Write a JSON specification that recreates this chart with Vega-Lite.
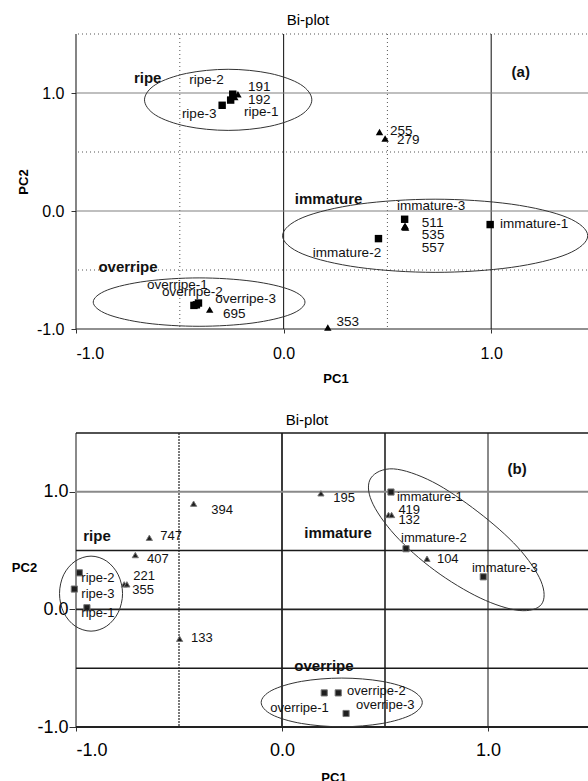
{
  "$schema": "https://vega.github.io/schema/vega-lite/v6.json",
  "padding": {"left": 11, "top": 13, "right": 0, "bottom": 0},
  "spacing": 28,
  "resolve": {"scale": {"color": "independent", "strokeWidth": "independent", "strokeDash": "independent", "shape": "independent"}},
  "config": {
    "font": "Liberation Sans",
    "view": {"stroke": null},
    "axis": {"grid": false, "domain": false, "labelColor": "#000", "tickColor": "#333", "titleColor": "#000", "labelFont": "Liberation Sans", "titleFont": "Liberation Sans"},
    "title": {"font": "Liberation Sans", "fontWeight": "normal", "fontSize": 15, "color": "#000"}
  },
  "datasets": {
    "a_rules": [
      {"dir": "v", "value": -1, "kind": "dark"},
      {"dir": "v", "value": -0.5, "kind": "dotted"},
      {"dir": "v", "value": 0, "kind": "dark"},
      {"dir": "v", "value": 0.5, "kind": "dotted"},
      {"dir": "v", "value": 1, "kind": "dark"},
      {"dir": "h", "value": 1.5, "kind": "dotted"},
      {"dir": "h", "value": 1, "kind": "gray"},
      {"dir": "h", "value": 0.5, "kind": "dotted"},
      {"dir": "h", "value": 0, "kind": "gray"},
      {"dir": "h", "value": -0.5, "kind": "dotted"},
      {"dir": "h", "value": -1, "kind": "dark"}
    ],
    "a_ellipses": [
      {"g": "ripe", "i": 0, "pc1": 0.136, "pc2": 0.942},
      {"g": "ripe", "i": 1, "pc1": 0.082, "pc2": 1.072},
      {"g": "ripe", "i": 2, "pc1": -0.066, "pc2": 1.166},
      {"g": "ripe", "i": 3, "pc1": -0.267, "pc2": 1.201},
      {"g": "ripe", "i": 4, "pc1": -0.468, "pc2": 1.166},
      {"g": "ripe", "i": 5, "pc1": -0.616, "pc2": 1.072},
      {"g": "ripe", "i": 6, "pc1": -0.67, "pc2": 0.942},
      {"g": "ripe", "i": 7, "pc1": -0.616, "pc2": 0.812},
      {"g": "ripe", "i": 8, "pc1": -0.468, "pc2": 0.718},
      {"g": "ripe", "i": 9, "pc1": -0.267, "pc2": 0.683},
      {"g": "ripe", "i": 10, "pc1": -0.066, "pc2": 0.718},
      {"g": "ripe", "i": 11, "pc1": 0.082, "pc2": 0.812},
      {"g": "immature", "i": 0, "pc1": 1.465, "pc2": -0.21},
      {"g": "immature", "i": 1, "pc1": 1.366, "pc2": -0.055},
      {"g": "immature", "i": 2, "pc1": 1.097, "pc2": 0.058},
      {"g": "immature", "i": 3, "pc1": 0.73, "pc2": 0.1},
      {"g": "immature", "i": 4, "pc1": 0.362, "pc2": 0.058},
      {"g": "immature", "i": 5, "pc1": 0.093, "pc2": -0.055},
      {"g": "immature", "i": 6, "pc1": -0.005, "pc2": -0.21},
      {"g": "immature", "i": 7, "pc1": 0.093, "pc2": -0.365},
      {"g": "immature", "i": 8, "pc1": 0.362, "pc2": -0.478},
      {"g": "immature", "i": 9, "pc1": 0.73, "pc2": -0.52},
      {"g": "immature", "i": 10, "pc1": 1.097, "pc2": -0.478},
      {"g": "immature", "i": 11, "pc1": 1.366, "pc2": -0.365},
      {"g": "overripe", "i": 0, "pc1": 0.103, "pc2": -0.772},
      {"g": "overripe", "i": 1, "pc1": 0.035, "pc2": -0.67},
      {"g": "overripe", "i": 2, "pc1": -0.152, "pc2": -0.595},
      {"g": "overripe", "i": 3, "pc1": -0.407, "pc2": -0.567},
      {"g": "overripe", "i": 4, "pc1": -0.662, "pc2": -0.595},
      {"g": "overripe", "i": 5, "pc1": -0.849, "pc2": -0.67},
      {"g": "overripe", "i": 6, "pc1": -0.917, "pc2": -0.772},
      {"g": "overripe", "i": 7, "pc1": -0.849, "pc2": -0.875},
      {"g": "overripe", "i": 8, "pc1": -0.662, "pc2": -0.95},
      {"g": "overripe", "i": 9, "pc1": -0.407, "pc2": -0.977},
      {"g": "overripe", "i": 10, "pc1": -0.152, "pc2": -0.95},
      {"g": "overripe", "i": 11, "pc1": 0.035, "pc2": -0.875}
    ],
    "a_points": [
      {"name": "ripe-2", "kind": "sample", "pc1": -0.245, "pc2": 0.99},
      {"name": "ripe-1", "kind": "sample", "pc1": -0.255, "pc2": 0.94},
      {"name": "ripe-3", "kind": "sample", "pc1": -0.296, "pc2": 0.896},
      {"name": "191", "kind": "compound", "pc1": -0.22, "pc2": 0.99},
      {"name": "192", "kind": "compound", "pc1": -0.235, "pc2": 0.965},
      {"name": "255", "kind": "compound", "pc1": 0.462, "pc2": 0.669},
      {"name": "279", "kind": "compound", "pc1": 0.489, "pc2": 0.614},
      {"name": "immature-3", "kind": "sample", "pc1": 0.583, "pc2": -0.07},
      {"name": "511", "kind": "compound", "pc1": 0.585, "pc2": -0.125},
      {"name": "535", "kind": "compound", "pc1": 0.588, "pc2": -0.14},
      {"name": "557", "kind": "compound", "pc1": 0.582, "pc2": -0.135},
      {"name": "immature-2", "kind": "sample", "pc1": 0.457, "pc2": -0.234},
      {"name": "immature-1", "kind": "sample", "pc1": 0.995, "pc2": -0.115},
      {"name": "overripe-1", "kind": "sample", "pc1": -0.432, "pc2": -0.8},
      {"name": "overripe-2", "kind": "sample", "pc1": -0.41, "pc2": -0.78},
      {"name": "overripe-3", "kind": "sample", "pc1": -0.42, "pc2": -0.795},
      {"name": "695", "kind": "compound", "pc1": -0.356, "pc2": -0.836},
      {"name": "353", "kind": "compound", "pc1": 0.213, "pc2": -0.988}
    ],
    "a_labels": [
      {"label": "ripe-2", "pc1": -0.455, "pc2": 1.108},
      {"label": "191", "pc1": -0.172, "pc2": 1.048},
      {"label": "192", "pc1": -0.172, "pc2": 0.938},
      {"label": "ripe-1", "pc1": -0.191, "pc2": 0.836},
      {"label": "ripe-3", "pc1": -0.49, "pc2": 0.819},
      {"label": "255", "pc1": 0.512, "pc2": 0.675},
      {"label": "279", "pc1": 0.546, "pc2": 0.599},
      {"label": "immature-3", "pc1": 0.546, "pc2": 0.04},
      {"label": "511", "pc1": 0.666, "pc2": -0.104},
      {"label": "535", "pc1": 0.666, "pc2": -0.206},
      {"label": "557", "pc1": 0.666, "pc2": -0.316},
      {"label": "immature-2", "pc1": 0.141, "pc2": -0.358},
      {"label": "immature-1", "pc1": 1.042, "pc2": -0.113},
      {"label": "overripe-1", "pc1": -0.658, "pc2": -0.63},
      {"label": "overripe-2", "pc1": -0.586, "pc2": -0.689},
      {"label": "overripe-3", "pc1": -0.329, "pc2": -0.748},
      {"label": "695", "pc1": -0.292, "pc2": -0.875},
      {"label": "353", "pc1": 0.255, "pc2": -0.943}
    ],
    "a_groups": [
      {"label": "ripe", "pc1": -0.721, "pc2": 1.125},
      {"label": "immature", "pc1": 0.054, "pc2": 0.099},
      {"label": "overripe", "pc1": -0.892, "pc2": -0.477},
      {"label": "(a)", "pc1": 1.098, "pc2": 1.175}
    ],
    "b_rules": [
      {"dir": "v", "value": -1, "kind": "gray"},
      {"dir": "v", "value": -0.5, "kind": "dashed"},
      {"dir": "v", "value": 0, "kind": "dark"},
      {"dir": "v", "value": 0.5, "kind": "thick"},
      {"dir": "v", "value": 1, "kind": "gray"},
      {"dir": "h", "value": 1.5, "kind": "thick"},
      {"dir": "h", "value": 1, "kind": "gray"},
      {"dir": "h", "value": 0.5, "kind": "thick"},
      {"dir": "h", "value": 0, "kind": "dark"},
      {"dir": "h", "value": -0.5, "kind": "thick"},
      {"dir": "h", "value": -1, "kind": "dark"}
    ],
    "b_ellipses": [
      {"g": "ripe", "i": 0, "pc1": -0.774, "pc2": 0.134},
      {"g": "ripe", "i": 1, "pc1": -0.795, "pc2": 0.294},
      {"g": "ripe", "i": 2, "pc1": -0.851, "pc2": 0.41},
      {"g": "ripe", "i": 3, "pc1": -0.927, "pc2": 0.453},
      {"g": "ripe", "i": 4, "pc1": -1.004, "pc2": 0.41},
      {"g": "ripe", "i": 5, "pc1": -1.06, "pc2": 0.294},
      {"g": "ripe", "i": 6, "pc1": -1.08, "pc2": 0.134},
      {"g": "ripe", "i": 7, "pc1": -1.06, "pc2": -0.026},
      {"g": "ripe", "i": 8, "pc1": -1.004, "pc2": -0.142},
      {"g": "ripe", "i": 9, "pc1": -0.927, "pc2": -0.185},
      {"g": "ripe", "i": 10, "pc1": -0.851, "pc2": -0.142},
      {"g": "ripe", "i": 11, "pc1": -0.795, "pc2": -0.026},
      {"g": "immature", "i": 0, "pc1": 1.26, "pc2": 0.044},
      {"g": "immature", "i": 1, "pc1": 1.151, "pc2": -0.009},
      {"g": "immature", "i": 2, "pc1": 0.962, "pc2": 0.097},
      {"g": "immature", "i": 3, "pc1": 0.741, "pc2": 0.332},
      {"g": "immature", "i": 4, "pc1": 0.548, "pc2": 0.633},
      {"g": "immature", "i": 5, "pc1": 0.435, "pc2": 0.921},
      {"g": "immature", "i": 6, "pc1": 0.432, "pc2": 1.118},
      {"g": "immature", "i": 7, "pc1": 0.541, "pc2": 1.195},
      {"g": "immature", "i": 8, "pc1": 0.731, "pc2": 1.085},
      {"g": "immature", "i": 9, "pc1": 0.951, "pc2": 0.83},
      {"g": "immature", "i": 10, "pc1": 1.144, "pc2": 0.529},
      {"g": "immature", "i": 11, "pc1": 1.257, "pc2": 0.241},
      {"g": "overripe", "i": 0, "pc1": 0.681, "pc2": -0.791},
      {"g": "overripe", "i": 1, "pc1": 0.629, "pc2": -0.688},
      {"g": "overripe", "i": 2, "pc1": 0.486, "pc2": -0.612},
      {"g": "overripe", "i": 3, "pc1": 0.29, "pc2": -0.584},
      {"g": "overripe", "i": 4, "pc1": 0.095, "pc2": -0.612},
      {"g": "overripe", "i": 5, "pc1": -0.049, "pc2": -0.688},
      {"g": "overripe", "i": 6, "pc1": -0.101, "pc2": -0.791},
      {"g": "overripe", "i": 7, "pc1": -0.049, "pc2": -0.895},
      {"g": "overripe", "i": 8, "pc1": 0.095, "pc2": -0.97},
      {"g": "overripe", "i": 9, "pc1": 0.29, "pc2": -0.998},
      {"g": "overripe", "i": 10, "pc1": 0.486, "pc2": -0.97},
      {"g": "overripe", "i": 11, "pc1": 0.629, "pc2": -0.895}
    ],
    "b_points": [
      {"name": "394", "kind": "compound", "pc1": -0.429, "pc2": 0.899},
      {"name": "747", "kind": "compound", "pc1": -0.644, "pc2": 0.609},
      {"name": "407", "kind": "compound", "pc1": -0.712, "pc2": 0.462},
      {"name": "221", "kind": "compound", "pc1": -0.766, "pc2": 0.213},
      {"name": "355", "kind": "compound", "pc1": -0.753, "pc2": 0.213},
      {"name": "133", "kind": "compound", "pc1": -0.497, "pc2": -0.25},
      {"name": "195", "kind": "compound", "pc1": 0.189, "pc2": 0.987},
      {"name": "419", "kind": "compound", "pc1": 0.517, "pc2": 0.803},
      {"name": "132", "kind": "compound", "pc1": 0.532, "pc2": 0.803},
      {"name": "104", "kind": "compound", "pc1": 0.704, "pc2": 0.431},
      {"name": "ripe-2", "kind": "sample", "pc1": -0.984, "pc2": 0.311},
      {"name": "ripe-3", "kind": "sample", "pc1": -1.008, "pc2": 0.173},
      {"name": "ripe-1", "kind": "sample", "pc1": -0.947, "pc2": 0.014},
      {"name": "immature-1", "kind": "sample", "pc1": 0.529, "pc2": 0.998},
      {"name": "immature-2", "kind": "sample", "pc1": 0.602, "pc2": 0.516},
      {"name": "immature-3", "kind": "sample", "pc1": 0.977, "pc2": 0.277},
      {"name": "overripe-1", "kind": "sample", "pc1": 0.205, "pc2": -0.71},
      {"name": "overripe-2", "kind": "sample", "pc1": 0.273, "pc2": -0.71},
      {"name": "overripe-3", "kind": "sample", "pc1": 0.311, "pc2": -0.885}
    ],
    "b_labels": [
      {"label": "394", "pc1": -0.343, "pc2": 0.845},
      {"label": "747", "pc1": -0.591, "pc2": 0.624},
      {"label": "407", "pc1": -0.655, "pc2": 0.428},
      {"label": "221", "pc1": -0.722, "pc2": 0.283},
      {"label": "355", "pc1": -0.727, "pc2": 0.164},
      {"label": "ripe-2", "pc1": -0.974, "pc2": 0.266},
      {"label": "ripe-3", "pc1": -0.974, "pc2": 0.13},
      {"label": "ripe-1", "pc1": -0.974, "pc2": -0.031},
      {"label": "133", "pc1": -0.442, "pc2": -0.242},
      {"label": "195", "pc1": 0.249, "pc2": 0.947},
      {"label": "immature-1", "pc1": 0.558, "pc2": 0.956},
      {"label": "419", "pc1": 0.565, "pc2": 0.845},
      {"label": "132", "pc1": 0.565, "pc2": 0.757},
      {"label": "immature-2", "pc1": 0.578, "pc2": 0.609},
      {"label": "104", "pc1": 0.752, "pc2": 0.428},
      {"label": "immature-3", "pc1": 0.922, "pc2": 0.354},
      {"label": "overripe-2", "pc1": 0.316, "pc2": -0.695},
      {"label": "overripe-3", "pc1": 0.359, "pc2": -0.817},
      {"label": "overripe-1", "pc1": -0.057, "pc2": -0.837}
    ],
    "b_groups": [
      {"label": "ripe", "pc1": -0.965, "pc2": 0.624},
      {"label": "immature", "pc1": 0.108, "pc2": 0.652},
      {"label": "overripe", "pc1": 0.06, "pc2": -0.483},
      {"label": "(b)", "pc1": 1.095, "pc2": 1.191}
    ]
  },
  "vconcat": [
    {
      "title": {"text": "Bi-plot", "dx": -27.5, "offset": 5},
      "width": 519,
      "height": 295,
      "layer": [
        {
          "data": {"name": "a_rules"},
          "transform": [{"filter": "datum.dir === 'v'"}],
          "mark": {"type": "rule"},
          "encoding": {
            "x": {"field": "value", "type": "quantitative", "scale": {"domain": [-1, 1.5], "nice": false, "zero": false},
              "axis": {"title": "PC1", "values": [-1, 0, 1], "format": ".1f", "labelExpr": "replace(datum.label, '\u2212', '-')", "labelFontSize": 16, "tickSize": 4, "labelPadding": 12, "titleFontSize": 13, "titleFontWeight": "bold", "titlePadding": 11}},
            "color": {"field": "kind", "type": "nominal", "scale": {"domain": ["dotted", "dark", "gray"], "range": ["#555555", "#222222", "#808080"]}, "legend": null},
            "strokeWidth": {"field": "kind", "type": "nominal", "scale": {"domain": ["dotted", "dark", "gray"], "range": [1, 1.2, 2]}, "legend": null},
            "strokeDash": {"field": "kind", "type": "nominal", "scale": {"domain": ["dotted", "dark", "gray"], "range": [[1, 3], [1, 0], [1, 0]]}, "legend": null}
          }
        },
        {
          "data": {"name": "a_rules"},
          "transform": [{"filter": "datum.dir === 'h'"}],
          "mark": {"type": "rule"},
          "encoding": {
            "y": {"field": "value", "type": "quantitative", "scale": {"domain": [-1, 1.5], "nice": false, "zero": false},
              "axis": {"title": "PC2", "values": [-1, 0, 1], "format": ".1f", "labelExpr": "replace(datum.label, '\u2212', '-')", "labelFontSize": 16, "tickSize": 5, "labelPadding": 7, "titleFontSize": 13, "titleFontWeight": "bold", "titleX": -53, "titleY": 147.5, "titleAlign": "center", "titleBaseline": "middle"}},
            "color": {"field": "kind", "type": "nominal", "scale": {"domain": ["dotted", "dark", "gray"], "range": ["#555555", "#222222", "#808080"]}, "legend": null},
            "strokeWidth": {"field": "kind", "type": "nominal", "scale": {"domain": ["dotted", "dark", "gray"], "range": [1, 1.2, 2]}, "legend": null},
            "strokeDash": {"field": "kind", "type": "nominal", "scale": {"domain": ["dotted", "dark", "gray"], "range": [[1, 3], [1, 0], [1, 0]]}, "legend": null}
          }
        },
        {
          "data": {"name": "a_ellipses"},
          "mark": {"type": "line", "interpolate": "cardinal-closed", "stroke": "#333333", "strokeWidth": 1},
          "encoding": {
            "x": {"field": "pc1", "type": "quantitative", "scale": {"domain": [-1, 1.5], "nice": false, "zero": false},
              "axis": {"title": "PC1", "values": [-1, 0, 1], "format": ".1f", "labelExpr": "replace(datum.label, '\u2212', '-')", "labelFontSize": 16, "tickSize": 4, "labelPadding": 12, "titleFontSize": 13, "titleFontWeight": "bold", "titlePadding": 11}},
            "y": {"field": "pc2", "type": "quantitative", "scale": {"domain": [-1, 1.5], "nice": false, "zero": false},
              "axis": {"title": "PC2", "values": [-1, 0, 1], "format": ".1f", "labelExpr": "replace(datum.label, '\u2212', '-')", "labelFontSize": 16, "tickSize": 5, "labelPadding": 7, "titleFontSize": 13, "titleFontWeight": "bold", "titleX": -53, "titleY": 147.5, "titleAlign": "center", "titleBaseline": "middle"}},
            "detail": {"field": "g", "type": "nominal"},
            "order": {"field": "i", "type": "quantitative"}
          }
        },
        {
          "data": {"name": "a_points"},
          "mark": {"type": "point", "filled": true, "color": "#000000", "opacity": 1, "size": 55},
          "encoding": {
            "x": {"field": "pc1", "type": "quantitative", "scale": {"domain": [-1, 1.5], "nice": false, "zero": false},
              "axis": {"title": "PC1", "values": [-1, 0, 1], "format": ".1f", "labelExpr": "replace(datum.label, '\u2212', '-')", "labelFontSize": 16, "tickSize": 4, "labelPadding": 12, "titleFontSize": 13, "titleFontWeight": "bold", "titlePadding": 11}},
            "y": {"field": "pc2", "type": "quantitative", "scale": {"domain": [-1, 1.5], "nice": false, "zero": false},
              "axis": {"title": "PC2", "values": [-1, 0, 1], "format": ".1f", "labelExpr": "replace(datum.label, '\u2212', '-')", "labelFontSize": 16, "tickSize": 5, "labelPadding": 7, "titleFontSize": 13, "titleFontWeight": "bold", "titleX": -53, "titleY": 147.5, "titleAlign": "center", "titleBaseline": "middle"}},
            "shape": {"field": "kind", "type": "nominal", "scale": {"domain": ["sample", "compound"], "range": ["square", "triangle-up"]}, "legend": null}
          }
        },
        {
          "data": {"name": "a_labels"},
          "mark": {"type": "text", "align": "left", "baseline": "middle", "fontSize": 13.5, "color": "#111111"},
          "encoding": {
            "x": {"field": "pc1", "type": "quantitative", "scale": {"domain": [-1, 1.5], "nice": false, "zero": false},
              "axis": {"title": "PC1", "values": [-1, 0, 1], "format": ".1f", "labelExpr": "replace(datum.label, '\u2212', '-')", "labelFontSize": 16, "tickSize": 4, "labelPadding": 12, "titleFontSize": 13, "titleFontWeight": "bold", "titlePadding": 11}},
            "y": {"field": "pc2", "type": "quantitative", "scale": {"domain": [-1, 1.5], "nice": false, "zero": false},
              "axis": {"title": "PC2", "values": [-1, 0, 1], "format": ".1f", "labelExpr": "replace(datum.label, '\u2212', '-')", "labelFontSize": 16, "tickSize": 5, "labelPadding": 7, "titleFontSize": 13, "titleFontWeight": "bold", "titleX": -53, "titleY": 147.5, "titleAlign": "center", "titleBaseline": "middle"}},
            "text": {"field": "label", "type": "nominal"}
          }
        },
        {
          "data": {"name": "a_groups"},
          "mark": {"type": "text", "align": "left", "baseline": "middle", "fontSize": 15, "fontWeight": "bold", "color": "#111111"},
          "encoding": {
            "x": {"field": "pc1", "type": "quantitative", "scale": {"domain": [-1, 1.5], "nice": false, "zero": false},
              "axis": {"title": "PC1", "values": [-1, 0, 1], "format": ".1f", "labelExpr": "replace(datum.label, '\u2212', '-')", "labelFontSize": 16, "tickSize": 4, "labelPadding": 12, "titleFontSize": 13, "titleFontWeight": "bold", "titlePadding": 11}},
            "y": {"field": "pc2", "type": "quantitative", "scale": {"domain": [-1, 1.5], "nice": false, "zero": false},
              "axis": {"title": "PC2", "values": [-1, 0, 1], "format": ".1f", "labelExpr": "replace(datum.label, '\u2212', '-')", "labelFontSize": 16, "tickSize": 5, "labelPadding": 7, "titleFontSize": 13, "titleFontWeight": "bold", "titleX": -53, "titleY": 147.5, "titleAlign": "center", "titleBaseline": "middle"}},
            "text": {"field": "label", "type": "nominal"}
          }
        }
      ]
    },
    {
      "title": {"text": "Bi-plot", "dx": -26.5, "offset": 4},
      "width": 515,
      "height": 294,
      "layer": [
        {
          "data": {"name": "b_rules"},
          "transform": [{"filter": "datum.dir === 'v'"}],
          "mark": {"type": "rule"},
          "encoding": {
            "x": {"field": "value", "type": "quantitative", "scale": {"domain": [-1, 1.5], "nice": false, "zero": false},
              "axis": {"title": "PC1", "values": [-1, 0, 1], "format": ".1f", "labelExpr": "replace(datum.label, '\u2212', '-')", "labelFontSize": 18, "tickSize": 4, "labelPadding": 10, "titleFontSize": 13, "titleFontWeight": "bold", "titlePadding": 12}},
            "color": {"field": "kind", "type": "nominal", "scale": {"domain": ["gray", "dark", "thick", "dashed"], "range": ["#8a8a8a", "#222222", "#1a1a1a", "#333333"]}, "legend": null},
            "strokeWidth": {"field": "kind", "type": "nominal", "scale": {"domain": ["gray", "dark", "thick", "dashed"], "range": [2, 1.3, 2.4, 1.2]}, "legend": null},
            "strokeDash": {"field": "kind", "type": "nominal", "scale": {"domain": ["gray", "dark", "thick", "dashed"], "range": [[1, 0], [1, 0], [1, 0], [2, 1]]}, "legend": null}
          }
        },
        {
          "data": {"name": "b_rules"},
          "transform": [{"filter": "datum.dir === 'h'"}],
          "mark": {"type": "rule"},
          "encoding": {
            "y": {"field": "value", "type": "quantitative", "scale": {"domain": [-1, 1.5], "nice": false, "zero": false},
              "axis": {"title": "PC2", "values": [-1, 0, 1], "format": ".1f", "labelExpr": "replace(datum.label, '\u2212', '-')", "labelFontSize": 18, "tickSize": 7, "labelPadding": 1, "titleFontSize": 13, "titleFontWeight": "bold", "titleAngle": 0, "titleX": -52, "titleY": 134, "titleAlign": "center", "titleBaseline": "middle"}},
            "color": {"field": "kind", "type": "nominal", "scale": {"domain": ["gray", "dark", "thick", "dashed"], "range": ["#8a8a8a", "#222222", "#1a1a1a", "#333333"]}, "legend": null},
            "strokeWidth": {"field": "kind", "type": "nominal", "scale": {"domain": ["gray", "dark", "thick", "dashed"], "range": [2, 1.3, 2.4, 1.2]}, "legend": null},
            "strokeDash": {"field": "kind", "type": "nominal", "scale": {"domain": ["gray", "dark", "thick", "dashed"], "range": [[1, 0], [1, 0], [1, 0], [2, 1]]}, "legend": null}
          }
        },
        {
          "data": {"name": "b_ellipses"},
          "mark": {"type": "line", "interpolate": "cardinal-closed", "stroke": "#333333", "strokeWidth": 1},
          "encoding": {
            "x": {"field": "pc1", "type": "quantitative", "scale": {"domain": [-1, 1.5], "nice": false, "zero": false},
              "axis": {"title": "PC1", "values": [-1, 0, 1], "format": ".1f", "labelExpr": "replace(datum.label, '\u2212', '-')", "labelFontSize": 18, "tickSize": 4, "labelPadding": 10, "titleFontSize": 13, "titleFontWeight": "bold", "titlePadding": 12}},
            "y": {"field": "pc2", "type": "quantitative", "scale": {"domain": [-1, 1.5], "nice": false, "zero": false},
              "axis": {"title": "PC2", "values": [-1, 0, 1], "format": ".1f", "labelExpr": "replace(datum.label, '\u2212', '-')", "labelFontSize": 18, "tickSize": 7, "labelPadding": 1, "titleFontSize": 13, "titleFontWeight": "bold", "titleAngle": 0, "titleX": -52, "titleY": 134, "titleAlign": "center", "titleBaseline": "middle"}},
            "detail": {"field": "g", "type": "nominal"},
            "order": {"field": "i", "type": "quantitative"}
          }
        },
        {
          "data": {"name": "b_points"},
          "mark": {"type": "point", "filled": true, "fill": "#1e1e1e", "stroke": "#777777", "strokeWidth": 1, "opacity": 1, "size": 38},
          "encoding": {
            "x": {"field": "pc1", "type": "quantitative", "scale": {"domain": [-1, 1.5], "nice": false, "zero": false},
              "axis": {"title": "PC1", "values": [-1, 0, 1], "format": ".1f", "labelExpr": "replace(datum.label, '\u2212', '-')", "labelFontSize": 18, "tickSize": 4, "labelPadding": 10, "titleFontSize": 13, "titleFontWeight": "bold", "titlePadding": 12}},
            "y": {"field": "pc2", "type": "quantitative", "scale": {"domain": [-1, 1.5], "nice": false, "zero": false},
              "axis": {"title": "PC2", "values": [-1, 0, 1], "format": ".1f", "labelExpr": "replace(datum.label, '\u2212', '-')", "labelFontSize": 18, "tickSize": 7, "labelPadding": 1, "titleFontSize": 13, "titleFontWeight": "bold", "titleAngle": 0, "titleX": -52, "titleY": 134, "titleAlign": "center", "titleBaseline": "middle"}},
            "shape": {"field": "kind", "type": "nominal", "scale": {"domain": ["sample", "compound"], "range": ["square", "triangle-up"]}, "legend": null}
          }
        },
        {
          "data": {"name": "b_labels"},
          "mark": {"type": "text", "align": "left", "baseline": "middle", "fontSize": 13, "color": "#111111"},
          "encoding": {
            "x": {"field": "pc1", "type": "quantitative", "scale": {"domain": [-1, 1.5], "nice": false, "zero": false},
              "axis": {"title": "PC1", "values": [-1, 0, 1], "format": ".1f", "labelExpr": "replace(datum.label, '\u2212', '-')", "labelFontSize": 18, "tickSize": 4, "labelPadding": 10, "titleFontSize": 13, "titleFontWeight": "bold", "titlePadding": 12}},
            "y": {"field": "pc2", "type": "quantitative", "scale": {"domain": [-1, 1.5], "nice": false, "zero": false},
              "axis": {"title": "PC2", "values": [-1, 0, 1], "format": ".1f", "labelExpr": "replace(datum.label, '\u2212', '-')", "labelFontSize": 18, "tickSize": 7, "labelPadding": 1, "titleFontSize": 13, "titleFontWeight": "bold", "titleAngle": 0, "titleX": -52, "titleY": 134, "titleAlign": "center", "titleBaseline": "middle"}},
            "text": {"field": "label", "type": "nominal"}
          }
        },
        {
          "data": {"name": "b_groups"},
          "mark": {"type": "text", "align": "left", "baseline": "middle", "fontSize": 15, "fontWeight": "bold", "color": "#111111"},
          "encoding": {
            "x": {"field": "pc1", "type": "quantitative", "scale": {"domain": [-1, 1.5], "nice": false, "zero": false},
              "axis": {"title": "PC1", "values": [-1, 0, 1], "format": ".1f", "labelExpr": "replace(datum.label, '\u2212', '-')", "labelFontSize": 18, "tickSize": 4, "labelPadding": 10, "titleFontSize": 13, "titleFontWeight": "bold", "titlePadding": 12}},
            "y": {"field": "pc2", "type": "quantitative", "scale": {"domain": [-1, 1.5], "nice": false, "zero": false},
              "axis": {"title": "PC2", "values": [-1, 0, 1], "format": ".1f", "labelExpr": "replace(datum.label, '\u2212', '-')", "labelFontSize": 18, "tickSize": 7, "labelPadding": 1, "titleFontSize": 13, "titleFontWeight": "bold", "titleAngle": 0, "titleX": -52, "titleY": 134, "titleAlign": "center", "titleBaseline": "middle"}},
            "text": {"field": "label", "type": "nominal"}
          }
        }
      ]
    }
  ]
}
